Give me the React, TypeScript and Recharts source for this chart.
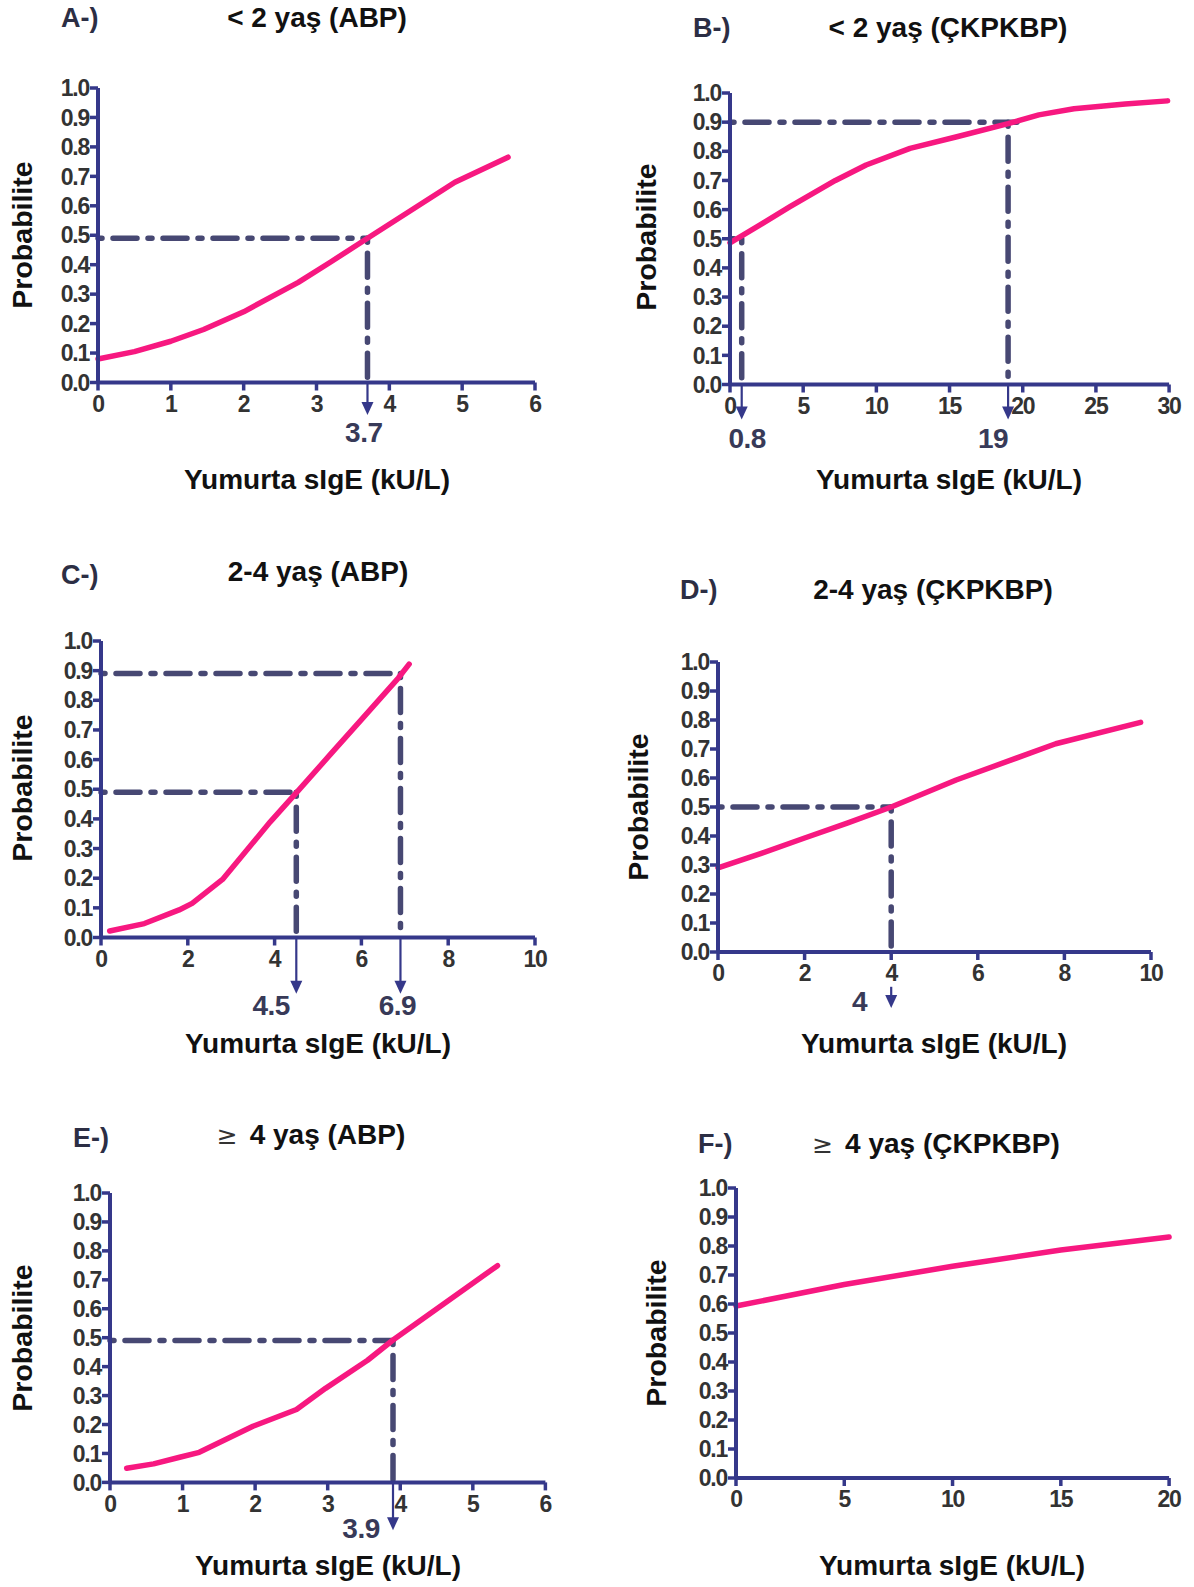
import React from "react";
import { LineChart, Line, XAxis, YAxis, ReferenceLine, ReferenceDot } from "recharts";

// A-) < 2 yaş (ABP)
const aSige = [0, 0.5, 1, 1.45, 2, 2.75, 3.2, 3.7, 4.3, 4.9, 5.63];
const aProb = [0.08, 0.105, 0.14, 0.18, 0.24, 0.34, 0.41, 0.49, 0.585, 0.68, 0.765];
const aCuts = [{ x: 3.7, p: 0.49 }];

// B-) < 2 yaş (ÇKPKBP)
const bSige = [0, 2, 4.1, 7.2, 9.3, 12.3, 15.5, 19, 21.1, 23.5, 27, 29.9];
const bProb = [0.486, 0.546, 0.61, 0.7, 0.753, 0.81, 0.85, 0.895, 0.925, 0.946, 0.962, 0.973];
const bCuts = [{ x: 0.8, p: 0.5 }, { x: 19, p: 0.9 }];

// C-) 2-4 yaş (ABP)
const cSige = [0.2, 1, 1.8, 2.1, 2.8, 3.9, 4.55, 5.3, 6, 6.85, 7.1];
const cProb = [0.022, 0.047, 0.093, 0.115, 0.196, 0.39, 0.496, 0.62, 0.735, 0.875, 0.922];
const cCuts = [{ x: 4.5, p: 0.49 }, { x: 6.9, p: 0.89 }];

// D-) 2-4 yaş (ÇKPKBP)
const dSige = [0, 1, 2, 3, 4, 5.5, 7.8, 9.76];
const dProb = [0.29, 0.34, 0.393, 0.445, 0.5, 0.593, 0.718, 0.792];
const dCuts = [{ x: 4, p: 0.5 }];

// E-) ≥ 4 yaş (ABP)
const eSige = [0.23, 0.6, 0.96, 1.23, 1.97, 2.57, 2.97, 3.55, 3.9, 5.34];
const eProb = [0.049, 0.064, 0.087, 0.104, 0.194, 0.252, 0.325, 0.422, 0.492, 0.749];
const eCuts = [{ x: 3.9, p: 0.49 }];

// F-) ≥ 4 yaş (ÇKPKBP)
const fSige = [0, 5, 10, 15, 20];
const fProb = [0.593, 0.667, 0.73, 0.786, 0.831];

const probTicks = [0, 0.1, 0.2, 0.3, 0.4, 0.5, 0.6, 0.7, 0.8, 0.9, 1];
const ticks6 = [0, 1, 2, 3, 4, 5, 6];
const ticks10 = [0, 2, 4, 6, 8, 10];
const ticks20 = [0, 5, 10, 15, 20];
const ticks30 = [0, 5, 10, 15, 20, 25, 30];

const FONT = '"Liberation Sans", Arial, Helvetica, sans-serif';
const AXIS = "#35388a";
const GUIDE = "#474873";
const PINK = "#f71880";
const TICK = { fill: "#333333", fontSize: 23, fontWeight: 700, fontFamily: FONT, letterSpacing: -1.2 };

const guideShape = (p: any) => (
  <line
    x1={p.x1}
    y1={p.y1}
    x2={p.x2}
    y2={p.y2}
    stroke={GUIDE}
    strokeWidth={5.5}
    strokeDasharray="4 11 24 11"
    strokeLinecap="round"
  />
);

const arrowShape = (p: any) => (
  <g>
    <line x1={p.x1} y1={p.y1} x2={p.x2} y2={p.y2 - 10} stroke={AXIS} strokeWidth={2.2} />
    <polygon
      points={`${p.x2 - 6},${p.y2 - 13} ${p.x2 + 6},${p.y2 - 13} ${p.x2},${p.y2}`}
      fill={AXIS}
    />
  </g>
);

const noteShape = (text: string) => (p: any) => (
  <text
    x={p.cx}
    y={p.cy}
    textAnchor="middle"
    dominantBaseline="central"
    fill="#383a58"
    fontSize={28}
    fontWeight={700}
    fontFamily={FONT}
    letterSpacing={-0.5}
  >
    {text}
  </text>
);

type Box = { left: number; top: number; right: number; bottom: number };

function Panel(props: {
  letter: string;
  title: string;
  geq?: boolean;
  xs: number[];
  ys: number[];
  cuts: { x: number; p: number }[];
  xMax: number;
  xTicks: number[];
  box: Box;
  arrow: [number, number];
  notes: [number, number][];
  hOver?: number;
  letterAt: [number, number];
  titleAt: [number, number];
  yLabelAt: [number, number];
  xLabelAt: [number, number];
}) {
  const { box } = props;
  const w = box.right - box.left;
  const h = box.bottom - box.top;
  const data = props.xs.map((x, i) => ({ x, p: props.ys[i] }));
  const text: React.CSSProperties = {
    position: "absolute",
    fontFamily: FONT,
    fontWeight: 700,
    whiteSpace: "nowrap",
    lineHeight: 1,
  };
  return (
    <>
      <div
        style={{
          ...text,
          left: props.letterAt[0],
          top: props.letterAt[1],
          transform: "translateY(-50%)",
          fontSize: 27,
          color: "#2c2e44",
        }}
      >
        {props.letter}
      </div>
      <div
        style={{
          ...text,
          left: props.titleAt[0],
          top: props.titleAt[1],
          transform: "translate(-50%,-50%)",
          fontSize: 28,
          color: "#111111",
        }}
      >
        {props.geq && (
          <span
            style={{
              fontWeight: 400,
              fontFamily: "DejaVu Sans",
              fontSize: 25,
              marginRight: 12,
              color: "#333",
            }}
          >
            ≥
          </span>
        )}
        {props.title}
      </div>
      <div
        style={{
          ...text,
          left: props.yLabelAt[0],
          top: props.yLabelAt[1],
          transform: "translate(-50%,-50%) rotate(-90deg)",
          fontSize: 28.5,
          color: "#111111",
        }}
      >
        Probabilite
      </div>
      <div
        style={{
          ...text,
          left: props.xLabelAt[0],
          top: props.xLabelAt[1],
          transform: "translate(-50%,-50%)",
          fontSize: 28,
          color: "#111111",
        }}
      >
        Yumurta sIgE (kU/L)
      </div>
      <div style={{ position: "absolute", left: box.left - 80, top: box.top - 20 }}>
        <LineChart
          width={80 + w + 25}
          height={20 + h + 110}
          data={data}
          margin={{ top: 20, right: 25, left: 0, bottom: 80 }}
        >
          <XAxis
            type="number"
            dataKey="x"
            domain={[0, props.xMax]}
            ticks={props.xTicks}
            interval={0}
            height={30}
            tick={TICK}
            tickSize={8}
            tickMargin={5}
            axisLine={{ stroke: AXIS, strokeWidth: 4 }}
            tickLine={{ stroke: AXIS, strokeWidth: 3.5 }}
          />
          <YAxis
            type="number"
            domain={[0, 1]}
            ticks={probTicks}
            interval={0}
            width={80}
            tick={TICK}
            tickSize={8}
            tickMargin={1}
            tickFormatter={(v: number) => v.toFixed(1)}
            axisLine={{ stroke: AXIS, strokeWidth: 4 }}
            tickLine={{ stroke: AXIS, strokeWidth: 3.5 }}
          />
          {props.cuts.map((c, i) => (
            <ReferenceLine
              key={"h" + i}
              segment={[
                { x: 0, y: c.p },
                { x: c.x + (i === props.cuts.length - 1 ? props.hOver ?? 0 : 0), y: c.p },
              ]}
              ifOverflow="visible"
              shape={guideShape}
            />
          ))}
          {props.cuts.map((c, i) => (
            <ReferenceLine
              key={"v" + i}
              segment={[
                { x: c.x, y: c.p },
                { x: c.x, y: 0 },
              ]}
              ifOverflow="visible"
              shape={guideShape}
            />
          ))}
          {props.cuts.map((c, i) => (
            <ReferenceLine
              key={"a" + i}
              segment={[
                { x: c.x, y: props.arrow[0] },
                { x: c.x, y: props.arrow[1] },
              ]}
              ifOverflow="visible"
              shape={arrowShape}
            />
          ))}
          {props.cuts.map((c, i) => (
            <ReferenceDot
              key={"n" + i}
              x={props.notes[i][0]}
              y={props.notes[i][1]}
              r={0}
              ifOverflow="visible"
              shape={noteShape(String(c.x))}
            />
          ))}
          <Line
            type="linear"
            dataKey="p"
            stroke={PINK}
            strokeWidth={5.5}
            strokeLinecap="round"
            strokeLinejoin="round"
            dot={false}
            isAnimationActive={false}
          />
        </LineChart>
      </div>
    </>
  );
}

export default function App() {
  return (
    <div
      style={{
        position: "absolute",
        left: 0,
        top: 0,
        width: 1194,
        height: 1587,
        background: "#ffffff",
        overflow: "hidden",
      }}
    >
      <Panel
        letter="A-)"
        title="< 2 yaş (ABP)"
        xs={aSige}
        ys={aProb}
        cuts={aCuts}
        xMax={6}
        xTicks={ticks6}
        box={{ left: 98, top: 88, right: 535, bottom: 382.5 }}
        arrow={[0, -0.11]}
        notes={[[3.65, -0.17]]}
        letterAt={[61, 18]}
        titleAt={[317, 18]}
        yLabelAt={[22, 235]}
        xLabelAt={[317, 480]}
      />
      <Panel
        letter="B-)"
        title="< 2 yaş (ÇKPKBP)"
        xs={bSige}
        ys={bProb}
        cuts={bCuts}
        xMax={30}
        xTicks={ticks30}
        box={{ left: 729.6, top: 93, right: 1168.7, bottom: 384.5 }}
        arrow={[0, -0.12]}
        notes={[
          [1.17, -0.184],
          [17.97, -0.184],
        ]}
        hOver={0.6}
        letterAt={[693, 28]}
        titleAt={[948, 28]}
        yLabelAt={[646, 237]}
        xLabelAt={[949, 480]}
      />
      <Panel
        letter="C-)"
        title="2-4 yaş (ABP)"
        xs={cSige}
        ys={cProb}
        cuts={cCuts}
        xMax={10}
        xTicks={ticks10}
        box={{ left: 101, top: 640.5, right: 535, bottom: 937 }}
        arrow={[0, -0.19]}
        notes={[
          [3.92, -0.23],
          [6.83, -0.23],
        ]}
        letterAt={[61, 575]}
        titleAt={[318, 572]}
        yLabelAt={[22, 788]}
        xLabelAt={[318, 1044]}
      />
      <Panel
        letter="D-)"
        title="2-4 yaş (ÇKPKBP)"
        xs={dSige}
        ys={dProb}
        cuts={dCuts}
        xMax={10}
        xTicks={ticks10}
        box={{ left: 717.5, top: 662, right: 1150.5, bottom: 952 }}
        arrow={[-0.12, -0.193]}
        notes={[[3.27, -0.172]]}
        letterAt={[680, 590]}
        titleAt={[933, 590]}
        yLabelAt={[638, 807]}
        xLabelAt={[934, 1044]}
      />
      <Panel
        letter="E-)"
        title="4 yaş (ABP)"
        geq
        xs={eSige}
        ys={eProb}
        cuts={eCuts}
        xMax={6}
        xTicks={ticks6}
        box={{ left: 110, top: 1193, right: 545.4, bottom: 1482.4 }}
        arrow={[0, -0.165]}
        notes={[[3.46, -0.158]]}
        letterAt={[73, 1138]}
        titleAt={[311, 1135]}
        yLabelAt={[22, 1338]}
        xLabelAt={[328, 1566]}
      />
      <Panel
        letter="F-)"
        title="4 yaş (ÇKPKBP)"
        geq
        xs={fSige}
        ys={fProb}
        cuts={[]}
        xMax={20}
        xTicks={ticks20}
        box={{ left: 735.6, top: 1188, right: 1168.7, bottom: 1478 }}
        arrow={[0, 0]}
        notes={[]}
        letterAt={[698, 1144]}
        titleAt={[936, 1144]}
        yLabelAt={[656, 1333]}
        xLabelAt={[952, 1566]}
      />
    </div>
  );
}
